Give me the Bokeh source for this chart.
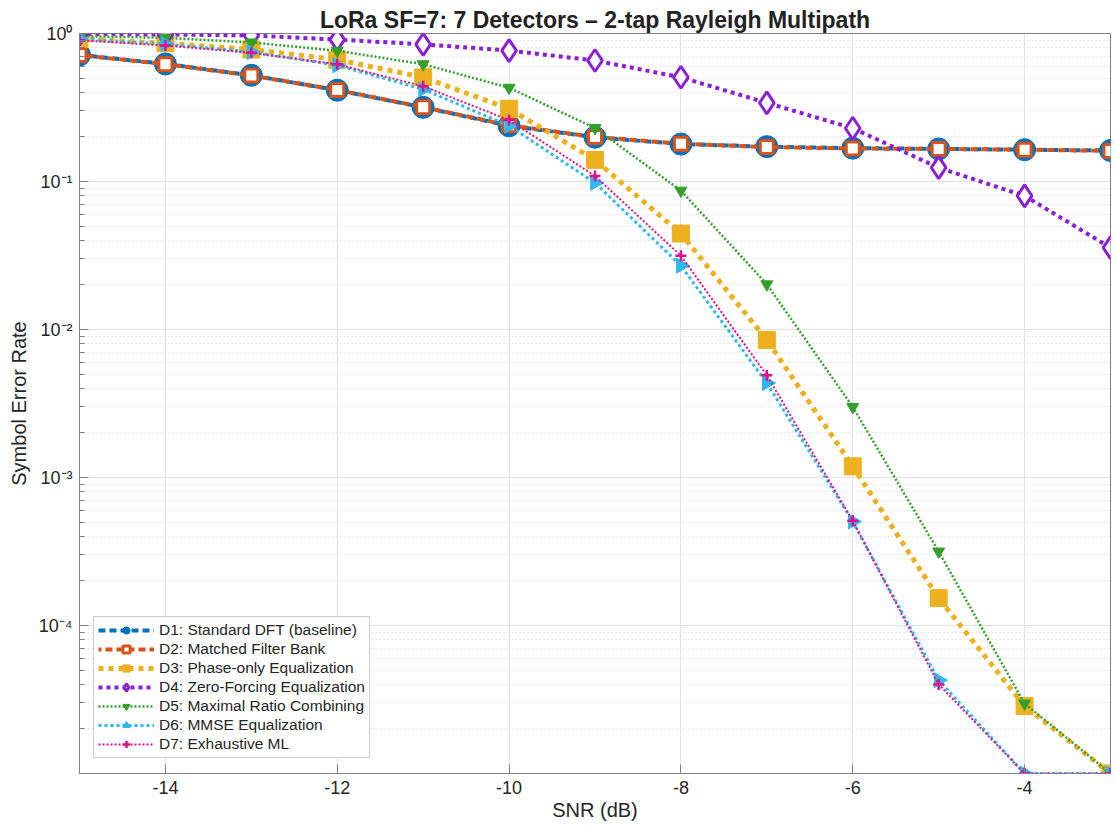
import numpy as np
from bokeh.plotting import figure
from bokeh.models import (ColumnDataSource, Range1d, FixedTicker, LogTicker,
                          CustomJSTickFormatter, Legend, LegendItem)
from bokeh.embed import file_html
from bokeh.resources import INLINE

snr = [-15, -14, -13, -12, -11, -10, -9, -8, -7, -6, -5, -4, -3]
d1 = [0.717, 0.623, 0.522, 0.414, 0.317, 0.238, 0.199, 0.179, 0.172, 0.168, 0.166, 0.164, 0.162]
d2 = [0.715, 0.620, 0.520, 0.415, 0.318, 0.240, 0.200, 0.180, 0.171, 0.167, 0.166, 0.164, 0.161]
d3 = [0.92, 0.86, 0.78, 0.665, 0.506, 0.31, 0.14, 0.0445, 0.0085, 0.00119, 1.53e-4, 2.86e-5, 1e-5]
d4 = [0.99, 0.985, 0.97, 0.91, 0.845, 0.767, 0.657, 0.506, 0.34, 0.229, 0.124, 0.080, 0.0357]
d5 = [0.96, 0.935, 0.87, 0.765, 0.62, 0.43, 0.23, 0.0868, 0.0202, 0.0030, 3.16e-4, 2.97e-5, 1e-5]
d6 = [0.92, 0.85, 0.75, 0.61, 0.42, 0.238, 0.098, 0.027, 0.00435, 5.04e-4, 4.27e-5, 1e-5, 1e-5]
d7 = [0.90, 0.83, 0.74, 0.62, 0.44, 0.26, 0.109, 0.0315, 0.0049, 5.1e-4, 4.0e-5, 1e-5, 1e-5]
labels = ["D1: Standard DFT (baseline)", "D2: Matched Filter Bank", "D3: Phase-only Equalization",
          "D4: Zero-Forcing Equalization", "D5: Maximal Ratio Combining", "D6: MMSE Equalization",
          "D7: Exhaustive ML"]
x_ticks = [-14, -12, -10, -8, -6, -4]

src = ColumnDataSource(dict(x=snr, d1=d1, d2=d2, d3=d3, d4=d4, d5=d5, d6=d6, d7=d7))

FONT = "Liberation Sans"
TXT = "#262626"
AX = "#808080"

p = figure(width=1113, height=825, x_range=Range1d(-15, -3), y_range=Range1d(1e-5, 1.0),
           y_axis_type="log", output_backend="svg", toolbar_location=None,
           min_border_left=79, min_border_right=3, min_border_top=33, min_border_bottom=52)
p.background_fill_color = "white"
p.border_fill_color = "white"
p.outline_line_color = AX
p.outline_line_width = 1

p.title.text = "LoRa SF=7: 7 Detectors \u2013 2-tap Rayleigh Multipath"
p.title.align = "center"
p.title.text_font = FONT
p.title.text_font_size = "23px"
p.title.text_font_style = "bold"
p.title.text_color = "#222222"
p.title.standoff = 1

xa = p.xaxis[0]
xa.ticker = FixedTicker(ticks=x_ticks)
xa.formatter = CustomJSTickFormatter(code="return String(Math.round(tick));")
ya = p.yaxis[0]
ya.ticker = LogTicker(num_minor_ticks=10)
ya.formatter = CustomJSTickFormatter(code="""
const e = Math.round(Math.log10(tick));
if (e <= -5) return " ";
const sup = {"0":"\u2070","1":"\u00b9","2":"\u00b2","3":"\u00b3","4":"\u2074","5":"\u2075","-":"\u207b"};
return "10" + String(e).split("").map(c => sup[c]).join("");
""")
for ax in (xa, ya):
    ax.axis_line_color = AX
    ax.major_tick_line_color = AX
    ax.minor_tick_line_color = AX
    ax.major_tick_in = 9
    ax.major_tick_out = 0
    ax.minor_tick_in = 5
    ax.minor_tick_out = 0
    ax.major_label_text_font = FONT
    ax.major_label_text_font_size = "18px"
    ax.major_label_text_color = TXT
    ax.axis_label_text_font = FONT
    ax.axis_label_text_font_style = "normal"
    ax.axis_label_text_font_size = "20px"
    ax.axis_label_text_color = TXT
xa.minor_tick_line_color = None
xa.axis_label = "SNR (dB)"
xa.axis_label_standoff = 2
xa.major_label_standoff = 7
ya.axis_label = "Symbol Error Rate"
ya.axis_label_standoff = 6
ya.major_label_standoff = 7

p.xgrid.grid_line_color = "#e2e2e2"
p.ygrid.grid_line_color = "#e2e2e2"
p.ygrid.minor_grid_line_color = "#e4e4e4"
p.ygrid.minor_grid_line_dash = "2 2"

items = []
l1 = p.line("x", "d1", source=src, color="#0072BD", line_width=4, line_dash="7 4")
m1 = p.scatter("x", "d1", source=src, marker="circle", size=22, fill_color="#0072BD", line_color="#0072BD")
items.append(LegendItem(label=labels[0], renderers=[l1, m1]))
l2 = p.line("x", "d2", source=src, color="#D95319", line_width=4, line_dash="7 4", line_dash_offset=4)
m2 = p.scatter("x", "d2", source=src, marker="square", size=13, fill_color="white", line_color="#D95319", line_width=3)
items.append(LegendItem(label=labels[1], renderers=[l2, m2]))
l3 = p.line("x", "d3", source=src, color="#EDB120", line_width=5, line_dash="5 5")
m3 = p.scatter("x", "d3", source=src, marker="square", size=17, fill_color="#EDB120", line_color="#EDB120")
items.append(LegendItem(label=labels[2], renderers=[l3, m3]))
l4 = p.line("x", "d4", source=src, color="#8A1FD4", line_width=4, line_dash="4 4")
m4 = p.scatter("x", "d4", source=src, marker="diamond", size=22, fill_color="white", line_color="#8A1FD4", line_width=3)
items.append(LegendItem(label=labels[3], renderers=[l4, m4]))
l5 = p.line("x", "d5", source=src, color="#33A02C", line_width=2.5, line_dash="2 2")
m5 = p.scatter("x", "d5", source=src, marker="inverted_triangle", size=12, fill_color="#33A02C", line_color="#33A02C")
items.append(LegendItem(label=labels[4], renderers=[l5, m5]))
l6 = p.line("x", "d6", source=src, color="#2DB8EE", line_width=3, line_dash="3 3")
m6 = p.scatter("x", "d6", source=src, marker="triangle", angle=-np.pi / 2, size=15, fill_color="#2DB8EE", line_color="#2DB8EE")
items.append(LegendItem(label=labels[5], renderers=[l6, m6]))
l7 = p.line("x", "d7", source=src, color="#E0108C", line_width=2, line_dash="2 2")
m7 = p.scatter("x", "d7", source=src, marker="cross", size=11, line_color="#E0108C", line_width=2.5)
items.append(LegendItem(label=labels[6], renderers=[l7, m7]))

legend = Legend(items=items, location=(14, 15))
legend.label_text_font = FONT
legend.label_text_font_size = "15.5px"
legend.label_text_color = TXT
legend.glyph_width = 56
legend.glyph_height = 18
legend.label_height = 18
legend.spacing = 1
legend.padding = 4
legend.margin = 0
legend.label_standoff = 5
legend.border_line_color = "#9a9a9a"
legend.border_line_width = 1
legend.background_fill_alpha = 1.0
p.add_layout(legend, "center")

open("out.html", "w").write(file_html(p, INLINE))
